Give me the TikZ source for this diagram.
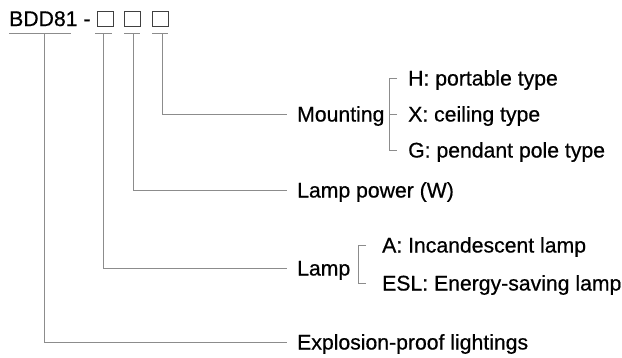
\documentclass[tikz,border=0pt]{standalone}
\usepackage{fontspec}
\setmainfont{Liberation Sans}[BoldFont=Liberation Sans,BoldFeatures={FakeBold=0.6}]
\begin{document}
\begin{tikzpicture}[x=1pt,y=-1pt,
  txt/.style={font=\fontsize{21.2}{25}\selectfont\bfseries},
  lbl/.style={txt,anchor=west,inner xsep=10pt,inner ysep=0pt,text height=15pt,text depth=0pt},
  sub/.style={lbl,inner xsep=11pt},
  conn/.style={draw=black!45,line width=1pt},
  sqbox/.style={draw=black!75,line width=0.9pt,minimum width=16pt,minimum height=15pt,inner sep=0pt}]
\useasboundingbox (0,0) rectangle (622,357);
% title
\node[txt,anchor=base west,inner sep=0pt] (title) at (9,26) {BDD81 -};
\node[sqbox] (b1) at (105,18.5) {};
\node[sqbox] (b2) at (132.5,18.5) {};
\node[sqbox] (b3) at (160,18.5) {};
% underlines
\coordinate (u1) at (44,33);
\coordinate (u2) at (103,33);
\coordinate (u3) at (133,33);
\coordinate (u4) at (162,33);
\draw[conn] (9,33) -- (71,33);
\draw[conn] (95,33) -- (112,33);
\draw[conn] (124,33) -- (140,33);
\draw[conn] (152,33) -- (168,33);
% labels
\node[lbl] (mount) at (287,114) {Mounting};
\node[lbl] (power) at (287,190) {Lamp power (W)};
\node[lbl] (lamp) at (287,268) {Lamp};
\node[lbl] (expl) at (287,342) {Explosion-proof lightings};
\node[sub] (H) at (397,78) {H: portable type};
\node[sub] (X) at (397,114) {X: ceiling type};
\node[sub] (G) at (397,150) {G: pendant pole type};
\node[lbl,inner xsep=16pt] (A) at (366,245) {A: Incandescent lamp};
\node[lbl,inner xsep=16pt] (ESL) at (366,283) {ESL: Energy-saving lamp};
% connectors
\draw[conn] (u4) |- (mount.west);
\draw[conn] (u3) |- (power.west);
\draw[conn] (u2) |- (lamp.west);
\draw[conn] (u1) |- (expl.west);
% brackets
\draw[conn] (H.west) -- ++(-8,0) |- (G.west);
\draw[conn] (X.west) -- ++(-7,0);
\draw[conn] (A.west) -- ++(-8,0) |- (ESL.west);
\end{tikzpicture}
\end{document}
